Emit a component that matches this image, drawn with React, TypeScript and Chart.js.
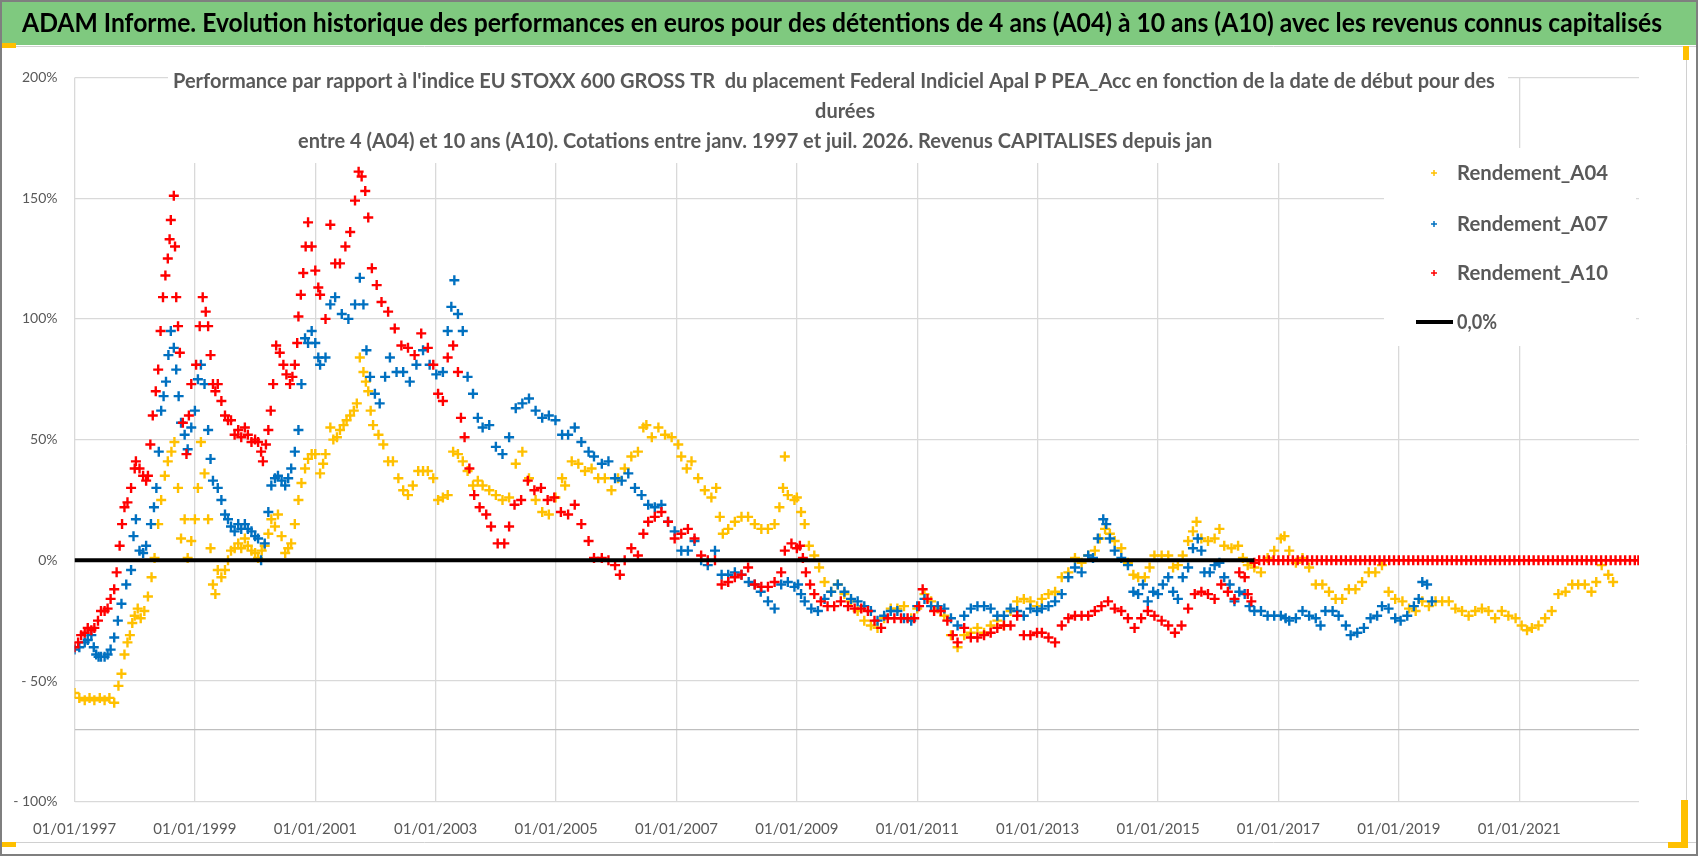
import { useEffect, useRef } from "react"
import { Chart, registerables } from "chart.js"

Chart.register(...registerables)

// Header and chart title
const headerText =
  "ADAM Informe. Evolution historique des performances en euros pour des détentions de 4 ans (A04) à 10 ans (A10) avec les revenus connus capitalisés"
const titleLines = [
  "Performance par rapport à l'indice EU STOXX 600 GROSS TR  du placement Federal Indiciel Apal P PEA_Acc en fonction de la date de début pour des",
  "durées",
  "entre 4 (A04) et 10 ans (A10). Cotations entre janv. 1997 et juil. 2026. Revenus CAPITALISES depuis jan",
]

const seriesLabels = ["Rendement_A04", "Rendement_A07", "Rendement_A10", "0,0%"]
const seriesColors = ["#FFC000", "#0070C0", "#FF0000", "#000000"]

// x axis ticks: 1st of January every other year
const xTicks = [1997, 1999, 2001, 2003, 2005, 2007, 2009, 2011, 2013, 2015, 2017, 2019, 2021]
// y axis ticks (-70 is the unlabeled horizontal axis line)
const yTicks = [-100, -70, -50, 0, 50, 100, 150, 200]

// [start date as decimal year, performance in %]
const a04: [number, number][] = [
  [1997.0, -55], [1997.08, -57], [1997.17, -58], [1997.25, -57], [1997.33, -58], [1997.42, -57], [1997.5, -58],
  [1997.58, -57], [1997.66, -59], [1997.73, -52], [1997.78, -47], [1997.83, -39], [1997.88, -34], [1997.92, -31],
  [1997.96, -26], [1998.0, -23], [1998.05, -20], [1998.1, -24], [1998.16, -21], [1998.22, -15], [1998.28, -7],
  [1998.33, 1], [1998.39, 15], [1998.44, 25], [1998.5, 35], [1998.55, 41], [1998.61, 45], [1998.66, 49],
  [1998.72, 30], [1998.77, 9], [1998.83, 17], [1998.88, 1], [1998.94, 8], [1999.0, 17], [1999.05, 30],
  [1999.1, 49], [1999.16, 36], [1999.22, 17], [1999.26, 5], [1999.3, -10], [1999.34, -14], [1999.38, -4],
  [1999.44, -7], [1999.5, -4], [1999.55, 0], [1999.6, 4], [1999.66, 5], [1999.72, 7], [1999.77, 5],
  [1999.83, 9], [1999.88, 6], [1999.94, 4], [2000.0, 3], [2000.05, 1], [2000.11, 4], [2000.16, 6],
  [2000.22, 11], [2000.27, 17], [2000.33, 14], [2000.38, 19], [2000.44, 10], [2000.5, 3], [2000.55, 5],
  [2000.6, 7], [2000.66, 15], [2000.72, 25], [2000.77, 32], [2000.83, 38], [2000.88, 42], [2000.94, 44],
  [2001.0, 44], [2001.08, 36], [2001.13, 40], [2001.17, 44], [2001.25, 55], [2001.3, 50], [2001.36, 51],
  [2001.41, 54], [2001.47, 56], [2001.52, 58], [2001.58, 60], [2001.64, 62], [2001.69, 65], [2001.74, 84],
  [2001.8, 78], [2001.84, 74], [2001.88, 70], [2001.92, 62], [2001.96, 56], [2002.05, 52], [2002.13, 48],
  [2002.21, 41], [2002.29, 41], [2002.38, 34], [2002.46, 29], [2002.54, 27], [2002.62, 31], [2002.71, 37],
  [2002.79, 37], [2002.87, 37], [2002.96, 34], [2003.04, 25], [2003.12, 26], [2003.2, 27], [2003.29, 45],
  [2003.37, 44], [2003.45, 41], [2003.53, 37], [2003.62, 31], [2003.7, 33], [2003.78, 31], [2003.89, 29],
  [2004.0, 27], [2004.11, 25], [2004.22, 26], [2004.33, 40], [2004.44, 45], [2004.55, 34], [2004.66, 25],
  [2004.77, 20], [2004.88, 19], [2004.99, 26], [2005.1, 34], [2005.15, 31], [2005.26, 41], [2005.37, 40],
  [2005.48, 37], [2005.59, 38], [2005.7, 34], [2005.81, 34], [2005.92, 29], [2006.03, 34], [2006.14, 38],
  [2006.25, 43], [2006.36, 45], [2006.45, 55], [2006.5, 56], [2006.59, 51], [2006.7, 55], [2006.81, 52],
  [2006.92, 51], [2007.03, 48], [2007.08, 43], [2007.17, 38], [2007.25, 41], [2007.36, 34], [2007.47, 29],
  [2007.58, 26], [2007.66, 30], [2007.72, 18], [2007.77, 11], [2007.86, 13], [2007.97, 16], [2008.08, 18],
  [2008.19, 18], [2008.3, 15], [2008.41, 13], [2008.52, 13], [2008.63, 15], [2008.71, 22], [2008.77, 30],
  [2008.8, 43], [2008.85, 27], [2008.96, 25], [2009.0, 26], [2009.07, 20], [2009.13, 15], [2009.2, 6],
  [2009.29, 2], [2009.37, -3], [2009.46, -9], [2009.57, -13], [2009.68, -10], [2009.79, -14], [2009.9, -17],
  [2010.01, -21], [2010.12, -25], [2010.23, -27], [2010.34, -28], [2010.45, -24], [2010.56, -20], [2010.67, -20],
  [2010.78, -19], [2010.9, -24], [2011.0, -20], [2011.12, -14], [2011.23, -17], [2011.34, -20], [2011.45, -23],
  [2011.56, -31], [2011.67, -36], [2011.78, -31], [2011.89, -30], [2012.0, -28], [2012.11, -30], [2012.22, -27],
  [2012.33, -25], [2012.44, -27], [2012.55, -21], [2012.66, -17], [2012.77, -16], [2012.88, -17], [2012.99, -19],
  [2013.07, -16], [2013.18, -14], [2013.29, -13], [2013.4, -7], [2013.51, -5], [2013.62, 1], [2013.73, -1],
  [2013.84, 2], [2013.95, 4], [2014.03, 9], [2014.12, 13], [2014.2, 11], [2014.28, 8], [2014.39, 5],
  [2014.5, -1], [2014.59, -6], [2014.67, -7], [2014.78, -7], [2014.86, -3], [2014.94, 2], [2015.06, 2],
  [2015.17, 2], [2015.25, -3], [2015.33, -2], [2015.41, 2], [2015.5, 8], [2015.58, 12], [2015.64, 16],
  [2015.72, 9], [2015.83, 8], [2015.94, 9], [2016.02, 13], [2016.1, 6], [2016.22, 5], [2016.33, 6],
  [2016.41, 1], [2016.49, -2], [2016.6, -3], [2016.71, -5], [2016.82, 1], [2016.93, 4], [2017.04, 9],
  [2017.1, 10], [2017.18, 4], [2017.29, -1], [2017.4, 1], [2017.51, -3], [2017.62, -10], [2017.73, -10],
  [2017.84, -13], [2017.95, -16], [2018.06, -16], [2018.17, -12], [2018.28, -12], [2018.39, -9], [2018.5, -5],
  [2018.61, -5], [2018.72, -2], [2018.83, -13], [2018.94, -16], [2019.06, -17], [2019.17, -20], [2019.28, -21],
  [2019.39, -17], [2019.5, -19], [2019.61, -17], [2019.72, -17], [2019.83, -17], [2019.94, -20], [2020.05, -21],
  [2020.16, -23], [2020.27, -21], [2020.38, -20], [2020.49, -21], [2020.6, -24], [2020.71, -21], [2020.82, -23],
  [2020.94, -24], [2021.04, -27], [2021.13, -29], [2021.21, -28], [2021.32, -27], [2021.43, -24], [2021.54, -21],
  [2021.65, -14], [2021.77, -13], [2021.88, -10], [2021.98, -10], [2022.09, -10], [2022.2, -13], [2022.28, -9],
  [2022.37, -2], [2022.48, -6], [2022.56, -9],
]

const a07: [number, number][] = [
  [1997.0, -37], [1997.08, -36], [1997.17, -34], [1997.22, -33], [1997.28, -31], [1997.32, -36], [1997.36, -39],
  [1997.4, -40], [1997.44, -40], [1997.5, -40], [1997.55, -39], [1997.6, -37], [1997.66, -32], [1997.72, -25],
  [1997.78, -18], [1997.86, -10], [1997.94, -4], [1997.98, 10], [1998.02, 17], [1998.08, 4], [1998.14, 3],
  [1998.19, 6], [1998.27, 15], [1998.32, 22], [1998.36, 30], [1998.4, 45], [1998.44, 62], [1998.48, 68],
  [1998.52, 74], [1998.56, 85], [1998.6, 95], [1998.65, 88], [1998.69, 79], [1998.73, 68], [1998.77, 57],
  [1998.83, 52], [1998.88, 46], [1998.94, 55], [1999.0, 62], [1999.05, 75], [1999.1, 81], [1999.16, 73],
  [1999.22, 54], [1999.26, 42], [1999.3, 33], [1999.38, 30], [1999.44, 25], [1999.5, 19], [1999.55, 17],
  [1999.6, 14], [1999.66, 12], [1999.72, 15], [1999.77, 13], [1999.83, 15], [1999.88, 13], [1999.94, 12],
  [2000.0, 10], [2000.05, 9], [2000.1, 0], [2000.16, 7], [2000.22, 20], [2000.27, 31], [2000.33, 34],
  [2000.38, 35], [2000.44, 33], [2000.5, 31], [2000.55, 34], [2000.6, 38], [2000.66, 45], [2000.72, 54],
  [2000.77, 73], [2000.83, 92], [2000.88, 90], [2000.94, 95], [2001.0, 90], [2001.05, 84], [2001.08, 81],
  [2001.17, 84], [2001.25, 106], [2001.33, 109], [2001.44, 102], [2001.55, 100], [2001.66, 106], [2001.74, 117],
  [2001.8, 106], [2001.85, 87], [2001.91, 76], [2001.99, 69], [2002.07, 65], [2002.16, 76], [2002.24, 84],
  [2002.35, 78], [2002.46, 78], [2002.57, 74], [2002.68, 81], [2002.79, 87], [2002.9, 81], [2003.01, 77],
  [2003.12, 78], [2003.2, 95], [2003.26, 105], [2003.31, 116], [2003.37, 102], [2003.45, 95], [2003.53, 76],
  [2003.62, 69], [2003.7, 59], [2003.78, 55], [2003.89, 56], [2004.0, 47], [2004.11, 44], [2004.22, 51],
  [2004.33, 63], [2004.44, 65], [2004.55, 67], [2004.66, 62], [2004.77, 59], [2004.88, 60], [2004.99, 58],
  [2005.1, 52], [2005.2, 52], [2005.31, 55], [2005.42, 49], [2005.54, 45], [2005.63, 43], [2005.76, 40],
  [2005.87, 41], [2005.98, 34], [2006.09, 33], [2006.2, 36], [2006.31, 30], [2006.42, 27], [2006.53, 23],
  [2006.64, 22], [2006.75, 23], [2006.86, 16], [2006.97, 12], [2007.08, 4], [2007.19, 4], [2007.3, 8],
  [2007.41, 0], [2007.52, -2], [2007.64, 4], [2007.75, -6], [2007.86, -6], [2007.97, -5], [2008.08, -6],
  [2008.2, -9], [2008.3, -10], [2008.4, -13], [2008.52, -17], [2008.63, -20], [2008.74, -10], [2008.85, -9],
  [2008.96, -11], [2009.02, -10], [2009.07, -14], [2009.13, -17], [2009.24, -20], [2009.35, -21], [2009.46, -16],
  [2009.57, -13], [2009.68, -10], [2009.79, -13], [2009.9, -16], [2010.01, -17], [2010.12, -19], [2010.23, -21],
  [2010.34, -25], [2010.45, -23], [2010.56, -21], [2010.67, -21], [2010.78, -24], [2010.9, -25], [2011.0, -19],
  [2011.12, -16], [2011.23, -19], [2011.34, -19], [2011.45, -20], [2011.56, -24], [2011.67, -27], [2011.78, -23],
  [2011.89, -20], [2012.0, -19], [2012.11, -19], [2012.22, -20], [2012.33, -23], [2012.44, -23], [2012.55, -20],
  [2012.66, -21], [2012.77, -23], [2012.88, -20], [2012.99, -21], [2013.07, -20], [2013.18, -19], [2013.29, -17],
  [2013.4, -14], [2013.51, -7], [2013.62, -3], [2013.73, -5], [2013.84, 2], [2013.92, 1], [2014.0, 9],
  [2014.09, 17], [2014.14, 15], [2014.2, 9], [2014.28, 4], [2014.39, 1], [2014.5, -2], [2014.59, -13],
  [2014.67, -14], [2014.75, -10], [2014.83, -17], [2014.92, -13], [2015.0, -14], [2015.08, -10], [2015.17, -7],
  [2015.25, -13], [2015.33, -16], [2015.41, -7], [2015.5, -3], [2015.58, 5], [2015.66, 9], [2015.72, 4],
  [2015.77, -5], [2015.86, -5], [2015.94, -2], [2016.02, -1], [2016.1, -7], [2016.19, -10], [2016.27, -17],
  [2016.35, -13], [2016.44, -14], [2016.52, -19], [2016.6, -21], [2016.71, -21], [2016.82, -23], [2016.93, -23],
  [2017.04, -23], [2017.12, -24], [2017.18, -25], [2017.29, -24], [2017.4, -21], [2017.51, -23], [2017.62, -24],
  [2017.7, -27], [2017.78, -21], [2017.9, -21], [2018.0, -23], [2018.12, -27], [2018.2, -31], [2018.31, -30],
  [2018.42, -28], [2018.53, -24], [2018.64, -23], [2018.72, -19], [2018.83, -20], [2018.94, -24], [2019.03, -25],
  [2019.14, -23], [2019.25, -19], [2019.33, -16], [2019.39, -9], [2019.47, -10], [2019.55, -17],
]

const a10: [number, number][] = [
  [1997.0, -36], [1997.06, -34], [1997.11, -31], [1997.17, -30], [1997.22, -28], [1997.28, -29], [1997.33, -28],
  [1997.39, -25], [1997.44, -21], [1997.5, -21], [1997.55, -20], [1997.6, -16], [1997.66, -12], [1997.7, -5],
  [1997.75, 6], [1997.79, 15], [1997.83, 22], [1997.88, 24], [1997.94, 30], [1998.0, 38], [1998.02, 41],
  [1998.08, 38], [1998.14, 35], [1998.19, 33], [1998.22, 35], [1998.26, 48], [1998.3, 60], [1998.35, 70],
  [1998.39, 79], [1998.43, 95], [1998.47, 109], [1998.51, 118], [1998.55, 125], [1998.58, 133], [1998.6, 141],
  [1998.65, 151], [1998.67, 130], [1998.69, 109], [1998.72, 97], [1998.75, 86], [1998.8, 57], [1998.86, 44],
  [1998.9, 60], [1998.94, 73], [1999.02, 81], [1999.08, 97], [1999.13, 109], [1999.18, 103], [1999.22, 97],
  [1999.26, 85], [1999.3, 73], [1999.34, 70], [1999.38, 73], [1999.44, 66], [1999.5, 60], [1999.55, 58],
  [1999.6, 58], [1999.66, 52], [1999.72, 54], [1999.77, 51], [1999.83, 55], [1999.88, 52], [1999.94, 49],
  [2000.0, 50], [2000.05, 49], [2000.1, 45], [2000.13, 41], [2000.18, 48], [2000.22, 54], [2000.26, 62],
  [2000.3, 73], [2000.35, 89], [2000.41, 86], [2000.47, 81], [2000.52, 77], [2000.58, 73], [2000.62, 76],
  [2000.66, 81], [2000.7, 90], [2000.72, 101], [2000.76, 110], [2000.8, 119], [2000.84, 130], [2000.88, 140],
  [2000.94, 130], [2001.0, 120], [2001.05, 113], [2001.08, 110], [2001.17, 100], [2001.25, 139], [2001.33, 123],
  [2001.41, 123], [2001.5, 130], [2001.58, 136], [2001.66, 149], [2001.72, 161], [2001.77, 159], [2001.83, 153],
  [2001.88, 142], [2001.94, 121], [2002.02, 114], [2002.1, 107], [2002.21, 103], [2002.32, 96], [2002.43, 89],
  [2002.54, 88], [2002.65, 85], [2002.76, 94], [2002.87, 88], [2002.96, 81], [2003.04, 69], [2003.12, 66],
  [2003.2, 84], [2003.29, 89], [2003.37, 78], [2003.42, 59], [2003.48, 51], [2003.56, 38], [2003.64, 27],
  [2003.73, 22], [2003.84, 19], [2003.92, 14], [2004.03, 7], [2004.14, 7], [2004.22, 14], [2004.31, 23],
  [2004.42, 25], [2004.53, 33], [2004.64, 29], [2004.75, 30], [2004.86, 25], [2004.97, 26], [2005.08, 20],
  [2005.2, 19], [2005.31, 23], [2005.42, 15], [2005.54, 8], [2005.63, 1], [2005.76, 1], [2005.87, 0],
  [2005.98, -2], [2006.06, -6], [2006.14, 0], [2006.25, 5], [2006.36, 2], [2006.45, 11], [2006.53, 16],
  [2006.64, 18], [2006.75, 20], [2006.86, 16], [2006.97, 9], [2007.08, 11], [2007.19, 13], [2007.3, 9],
  [2007.41, 2], [2007.52, 0], [2007.64, 0], [2007.75, -10], [2007.86, -9], [2007.97, -7], [2008.08, -6],
  [2008.19, -3], [2008.3, -10], [2008.41, -11], [2008.52, -11], [2008.63, -9], [2008.74, -5], [2008.8, 4],
  [2008.91, 7], [2009.0, 5], [2009.05, 6], [2009.1, 1], [2009.15, -5], [2009.22, -10], [2009.29, -14],
  [2009.4, -17], [2009.51, -19], [2009.62, -19], [2009.73, -17], [2009.85, -19], [2009.96, -20], [2010.07, -20],
  [2010.18, -21], [2010.29, -25], [2010.4, -28], [2010.51, -24], [2010.62, -24], [2010.73, -24], [2010.84, -24],
  [2010.95, -24], [2011.03, -19], [2011.09, -12], [2011.17, -16], [2011.28, -21], [2011.39, -21], [2011.5, -25],
  [2011.59, -31], [2011.67, -34], [2011.78, -28], [2011.89, -32], [2012.0, -32], [2012.11, -31], [2012.22, -30],
  [2012.33, -28], [2012.44, -27], [2012.55, -27], [2012.66, -23], [2012.77, -31], [2012.88, -31], [2012.99, -30],
  [2013.07, -30], [2013.18, -32], [2013.29, -34], [2013.4, -27], [2013.51, -24], [2013.62, -23], [2013.73, -23],
  [2013.84, -23], [2013.95, -21], [2014.06, -19], [2014.17, -17], [2014.28, -20], [2014.39, -21], [2014.5, -24],
  [2014.61, -28], [2014.72, -24], [2014.83, -21], [2014.94, -23], [2015.06, -25], [2015.17, -27], [2015.28, -30],
  [2015.39, -27], [2015.5, -20], [2015.61, -14], [2015.72, -13], [2015.83, -14], [2015.94, -16], [2016.05, -10],
  [2016.16, -13], [2016.27, -16], [2016.35, -5], [2016.44, -7], [2016.49, -14], [2016.55, -17], [2016.6, -1],
  [2016.68, 0], [2016.76, 0], [2016.84, 0], [2016.92, 0], [2017.0, 0], [2017.08, 0], [2017.16, 0], [2017.24, 0],
  [2017.32, 0], [2017.4, 0], [2017.48, 0], [2017.56, 0], [2017.64, 0], [2017.72, 0], [2017.8, 0], [2017.88, 0],
  [2017.96, 0], [2018.04, 0], [2018.12, 0], [2018.2, 0], [2018.28, 0], [2018.36, 0], [2018.44, 0], [2018.52, 0],
  [2018.6, 0], [2018.68, 0], [2018.76, 0], [2018.84, 0], [2018.92, 0], [2019.0, 0], [2019.08, 0], [2019.16, 0],
  [2019.24, 0], [2019.32, 0], [2019.4, 0], [2019.48, 0], [2019.56, 0], [2019.64, 0], [2019.72, 0], [2019.8, 0],
  [2019.88, 0], [2019.96, 0], [2020.04, 0], [2020.12, 0], [2020.2, 0], [2020.28, 0], [2020.36, 0], [2020.44, 0],
  [2020.52, 0], [2020.6, 0], [2020.68, 0], [2020.76, 0], [2020.84, 0], [2020.92, 0], [2021.0, 0], [2021.08, 0],
  [2021.16, 0], [2021.24, 0], [2021.32, 0], [2021.4, 0], [2021.48, 0], [2021.56, 0], [2021.64, 0], [2021.72, 0],
  [2021.8, 0], [2021.88, 0], [2021.96, 0], [2022.04, 0], [2022.12, 0], [2022.2, 0], [2022.28, 0], [2022.36, 0],
  [2022.44, 0], [2022.52, 0], [2022.6, 0], [2022.68, 0], [2022.76, 0], [2022.84, 0], [2022.92, 0], [2022.98, 0],
]

// the 0,0% reference line
const zeroLine: [number, number][] = [
  [1997.0, 0],
  [2016.6, 0],
]

const toXY = (arr: [number, number][]) => arr.map(([x, y]) => ({ x, y }))

const FONT = "Lato, 'Open Sans', sans-serif"
const GREY = "#595959"

// header band, frame, title box and legend drawn around the plot
const decorPlugin = {
  id: "decor",
  beforeDraw(chart: Chart) {
    const ctx = chart.ctx
    const W = chart.width
    const H = chart.height
    ctx.save()
    ctx.fillStyle = "#ffffff"
    ctx.fillRect(0, 0, W, H)
    // green header
    ctx.fillStyle = "#7fc97f"
    ctx.fillRect(0, 0, W, 45)
    ctx.fillStyle = "#000000"
    ctx.font = `bold 27px ${FONT}`
    ctx.textBaseline = "middle"
    ctx.textAlign = "left"
    ctx.fillText(headerText, 22, 23, 1640)
    // chart frame
    ctx.strokeStyle = "#d0d0d0"
    ctx.lineWidth = 1
    ctx.beginPath()
    ctx.moveTo(0, 46.5)
    ctx.lineTo(W, 46.5)
    ctx.moveTo(0, 842.5)
    ctx.lineTo(W, 842.5)
    ctx.moveTo(1686.5, 46)
    ctx.lineTo(1686.5, 843)
    ctx.stroke()
    // selection handles
    ctx.fillStyle = "#FFC000"
    ctx.fillRect(0, 43, 16, 5)
    ctx.fillRect(0, 842, 16, 5)
    ctx.fillRect(1683, 46, 6, 14)
    ctx.fillRect(1681, 800, 7, 48)
    ctx.fillRect(1668, 842, 20, 6)
    // outer border
    ctx.strokeStyle = "#7f7f7f"
    ctx.lineWidth = 2
    ctx.strokeRect(1, 1, W - 2, H - 2)
    ctx.restore()
  },
  beforeDatasetsDraw(chart: Chart) {
    const ctx = chart.ctx
    ctx.save()
    // title box over the grid
    ctx.fillStyle = "#ffffff"
    ctx.fillRect(168, 66, 1340, 97)
    ctx.fillStyle = GREY
    ctx.font = `bold 20px ${FONT}`
    ctx.textBaseline = "middle"
    ctx.textAlign = "left"
    ctx.fillText(titleLines[0], 173, 82, 1343)
    ctx.textAlign = "center"
    ctx.fillText(titleLines[1], 845, 112)
    ctx.textAlign = "left"
    ctx.fillText(titleLines[2], 298, 142, 1007)
    // legend box
    ctx.fillStyle = "#ffffff"
    ctx.fillRect(1384, 148, 252, 198)
    const rows = [173, 224, 273, 322]
    chart.data.datasets.forEach((ds: any, i: number) => {
      const y = rows[i]
      ctx.strokeStyle = ds.borderColor
      if (i < 3) {
        ctx.lineWidth = 1.5
        ctx.beginPath()
        ctx.moveTo(1431, y)
        ctx.lineTo(1437, y)
        ctx.moveTo(1434, y - 3)
        ctx.lineTo(1434, y + 3)
        ctx.stroke()
      } else {
        ctx.lineWidth = 4
        ctx.beginPath()
        ctx.moveTo(1416, y)
        ctx.lineTo(1453, y)
        ctx.stroke()
      }
      ctx.fillStyle = GREY
      ctx.font = `bold 21px ${FONT}`
      ctx.textAlign = "left"
      ctx.fillText(ds.label, 1457, y, i < 3 ? 151 : 40)
    })
    ctx.restore()
  },
}

export default function App() {
  const chartRef = useRef<HTMLCanvasElement>(null)
  const chartInstance = useRef<Chart | null>(null)

  useEffect(() => {
    document.body.style.margin = "0"
    if (!chartRef.current) return
    if (chartInstance.current) chartInstance.current.destroy()
    const ctx = chartRef.current.getContext("2d")
    if (!ctx) return

    const scatterStyle = (i: number) => ({
      label: seriesLabels[i],
      borderColor: seriesColors[i],
      backgroundColor: seriesColors[i],
      pointStyle: "cross" as const,
      pointRadius: 5,
      pointBorderWidth: 2.4,
      showLine: false,
    })

    chartInstance.current = new Chart(ctx, {
      type: "scatter",
      data: {
        datasets: [
          { ...scatterStyle(0), data: toXY(a04), order: 4 },
          { ...scatterStyle(1), data: toXY(a07), order: 3 },
          { ...scatterStyle(2), data: toXY(a10), order: 2 },
          {
            type: "line",
            label: seriesLabels[3],
            data: toXY(zeroLine),
            borderColor: seriesColors[3],
            backgroundColor: seriesColors[3],
            borderWidth: 4,
            pointRadius: 0,
            showLine: true,
            order: 1,
          } as any,
        ],
      },
      plugins: [decorPlugin],
      options: {
        responsive: true,
        maintainAspectRatio: false,
        animation: false,
        layout: { padding: { top: 77.5, right: 59, left: 0, bottom: 0 } },
        plugins: {
          legend: { display: false },
          title: { display: false },
          tooltip: { enabled: false },
        },
        scales: {
          x: {
            type: "linear",
            min: 1997,
            max: 2022.99,
            border: { display: false },
            grid: { color: "#d9d9d9", lineWidth: 1.3, drawTicks: false },
            afterBuildTicks: (scale: any) => {
              scale.ticks = xTicks.map((value) => ({ value }))
            },
            afterFit: (scale: any) => {
              scale.height = 54.3
            },
            ticks: {
              padding: 18,
              maxRotation: 0,
              autoSkip: false,
              color: GREY,
              font: { family: FONT, size: 15 },
              callback: (v: any) => `01/01/${Math.round(Number(v))}`,
            },
          },
          y: {
            min: -100,
            max: 200,
            border: { display: false },
            afterBuildTicks: (scale: any) => {
              scale.ticks = yTicks.map((value) => ({ value }))
            },
            afterFit: (scale: any) => {
              scale.width = 74.5
            },
            grid: {
              color: (c: any) => (c.tick && c.tick.value === -70 ? "#bfbfbf" : "#d9d9d9"),
              lineWidth: 1.3,
              drawTicks: false,
            },
            ticks: {
              padding: 17,
              color: GREY,
              font: { family: FONT, size: 14 },
              callback: (v: any) => {
                const n = Number(v)
                if (n === -70) return ""
                return n < 0 ? `- ${-n}%` : `${n}%`
              },
            },
          },
        },
      },
    })

    return () => {
      if (chartInstance.current) {
        chartInstance.current.destroy()
        chartInstance.current = null
      }
    }
  }, [])

  return (
    <div style={{ width: 1698, height: 856, position: "relative" }}>
      <canvas ref={chartRef} />
    </div>
  )
}
